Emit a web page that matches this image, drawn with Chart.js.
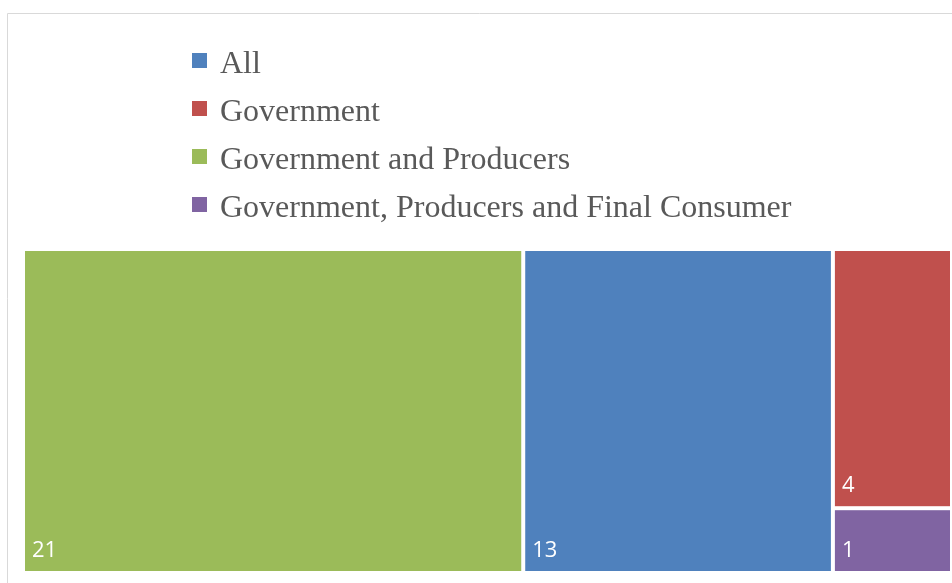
<!DOCTYPE html>
<html>
<head>
<meta charset="utf-8">
<script src="https://cdn.jsdelivr.net/npm/chart.js@4.4.1/dist/chart.umd.min.js"></script>
<style>
  html, body { margin: 0; padding: 0; background: #fff; }
  #wrap { position: relative; width: 952px; height: 583px; }
</style>
</head>
<body>
<div id="wrap"><canvas id="myChart" width="952" height="583"></canvas></div>
<script>
// groups and how many fall in each
const groups = ['All', 'Government', 'Government and Producers', 'Government, Producers and Final Consumer'];
const counts = [13, 4, 21, 1];
const colors = ['#4F81BD', '#C0504D', '#9BBB59', '#8064A2'];

// squarified treemap layout inside the box x,y,w,h (pixels)
function squarify(values, x, y, w, h) {
    const total = values.reduce((s, v) => s + v, 0);
    const nodes = values
        .map((v, i) => ({ i: i, v: v, a: v * w * h / total }))
        .sort((p, q) => q.v - p.v);
    const out = [];
    let rect = { x: x, y: y, w: w, h: h };

    const worst = (row, side) => {
        const s = row.reduce((t, n) => t + n.a, 0);
        let max = 0;
        row.forEach(n => {
            max = Math.max(max, side * side * n.a / (s * s), (s * s) / (side * side * n.a));
        });
        return max;
    };

    const placeRow = (row) => {
        const s = row.reduce((t, n) => t + n.a, 0);
        if (rect.w >= rect.h) {
            // column along the left side
            const cw = s / rect.h;
            let cy = rect.y;
            row.forEach(n => {
                const nh = n.a / cw;
                out.push({ i: n.i, v: n.v, x: rect.x, y: cy, w: cw, h: nh });
                cy += nh;
            });
            rect = { x: rect.x + cw, y: rect.y, w: rect.w - cw, h: rect.h };
        } else {
            // strip along the top
            const rh = s / rect.w;
            let cx = rect.x;
            row.forEach(n => {
                const nw = n.a / rh;
                out.push({ i: n.i, v: n.v, x: cx, y: rect.y, w: nw, h: rh });
                cx += nw;
            });
            rect = { x: rect.x, y: rect.y + rh, w: rect.w, h: rect.h - rh };
        }
    };

    let row = [];
    let k = 0;
    while (k < nodes.length) {
        const side = Math.min(rect.w, rect.h);
        const n = nodes[k];
        if (row.length === 0 || worst(row.concat(n), side) <= worst(row, side)) {
            row.push(n);
            k++;
        } else {
            placeRow(row);
            row = [];
        }
    }
    if (row.length) placeRow(row);
    return out;
}

// outer frame of the chart
const framePlugin = {
    id: 'frame',
    beforeDraw(chart) {
        const ctx = chart.ctx;
        ctx.save();
        ctx.strokeStyle = '#d9d9d9';
        ctx.lineWidth = 1;
        ctx.beginPath();
        ctx.moveTo(7.5, chart.height);
        ctx.lineTo(7.5, 13.5);
        ctx.lineTo(chart.width, 13.5);
        ctx.stroke();
        ctx.restore();
    }
};

// tiles, positioned from the x / y scales
const treemapPlugin = {
    id: 'treemap',
    afterDatasetsDraw(chart) {
        const ctx = chart.ctx;
        const xs = chart.scales.x, ys = chart.scales.y;
        const left = xs.getPixelForValue(0), right = xs.getPixelForValue(1);
        const top = ys.getPixelForValue(1), bottom = ys.getPixelForValue(0);
        const tiles = squarify(counts, left, top, right - left, bottom - top);
        const gap = 2;

        ctx.save();
        tiles.forEach(t => {
            ctx.fillStyle = chart.data.datasets[t.i].backgroundColor;
            ctx.fillRect(t.x + gap, t.y + gap, t.w - 2 * gap, t.h - 2 * gap);

            ctx.fillStyle = '#ffffff';
            ctx.font = '22px "Open Sans"';
            ctx.textAlign = 'left';
            ctx.textBaseline = 'alphabetic';
            ctx.fillText(String(t.v), t.x + gap + 7, t.y + t.h - gap - 14);
        });
        ctx.restore();
    }
};

// legend listed one item per line above the tiles
const listLegendPlugin = {
    id: 'listLegend',
    afterDraw(chart) {
        const ctx = chart.ctx;
        ctx.save();
        ctx.font = '32px "Liberation Serif"';
        ctx.textBaseline = 'alphabetic';
        chart.data.datasets.forEach((ds, i) => {
            const base = 73 + i * 48;
            ctx.fillStyle = ds.backgroundColor;
            ctx.fillRect(192, base - 20, 15, 15);
            ctx.fillStyle = '#595959';
            ctx.fillText(ds.label, 220, base);
        });
        ctx.restore();
    }
};

let myChart = document.getElementById('myChart').getContext('2d');

let dataChart = new Chart(myChart, {
    type: 'scatter',
    data: {
        datasets: groups.map((g, i) => ({
            label: g,
            data: [],
            backgroundColor: colors[i],
            pointRadius: 0
        }))
    },
    options: {
        responsive: false,
        animation: false,
        devicePixelRatio: 1,
        layout: {
            padding: { left: 23, right: 0, top: 249, bottom: 10 }
        },
        scales: {
            x: { type: 'linear', min: 0, max: 1, display: false },
            y: { type: 'linear', min: 0, max: 1, display: false }
        },
        plugins: {
            legend: { display: false },
            tooltip: { enabled: false }
        }
    },
    plugins: [framePlugin, treemapPlugin, listLegendPlugin]
});
</script>
</body>
</html>
